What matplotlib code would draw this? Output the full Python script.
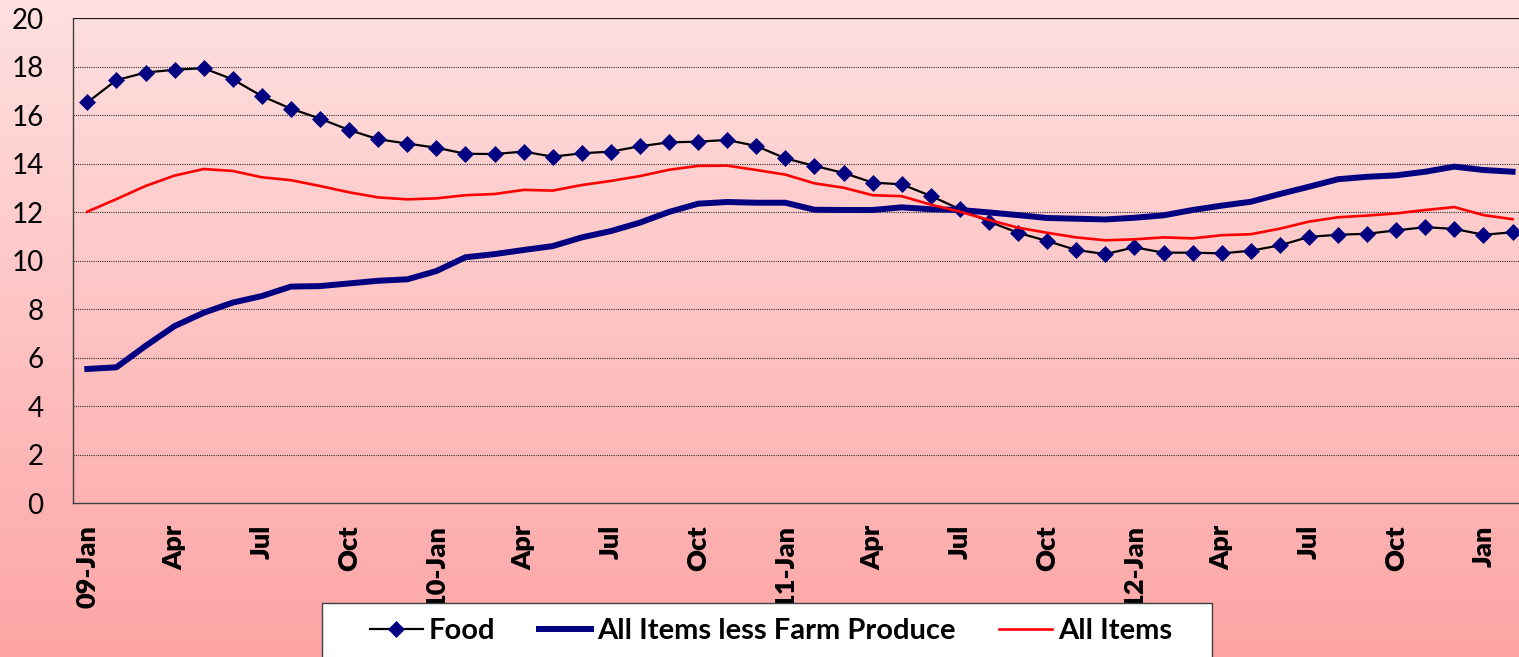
import numpy as np
import matplotlib
matplotlib.use('Agg')
import matplotlib.pyplot as plt
from matplotlib.patches import Rectangle

plt.rcParams['font.family'] = ['Lato', 'DejaVu Sans']

# ============================================================
# Data (monthly, Jan 2009 - Feb 2013)
# ============================================================
tick_labels = ['09-Jan', 'Apr', 'Jul', 'Oct', '10-Jan', 'Apr', 'Jul', 'Oct',
               '11-Jan', 'Apr', 'Jul', 'Oct', '12-Jan', 'Apr', 'Jul', 'Oct', 'Jan']

food = [16.53, 17.45, 17.76, 17.88, 17.94, 17.48, 16.79, 16.27, 15.86, 15.39,
        15.01, 14.83, 14.66, 14.41, 14.40, 14.50, 14.29, 14.43, 14.50, 14.72,
        14.88, 14.91, 14.98, 14.73, 14.22, 13.91, 13.62, 13.22, 13.15, 12.67,
        12.12, 11.61, 11.15, 10.81, 10.44, 10.27, 10.55, 10.33, 10.33, 10.30,
        10.41, 10.63, 10.98, 11.07, 11.11, 11.25, 11.38, 11.31, 11.07, 11.17]

less_farm = [5.53, 5.60, 6.48, 7.30, 7.85, 8.27, 8.54, 8.93, 8.95, 9.06,
             9.17, 9.23, 9.57, 10.14, 10.27, 10.44, 10.60, 10.96, 11.22, 11.57,
             12.01, 12.35, 12.42, 12.39, 12.39, 12.10, 12.09, 12.09, 12.20, 12.12,
             12.09, 11.99, 11.88, 11.76, 11.73, 11.70, 11.77, 11.87, 12.09, 12.27,
             12.43, 12.75, 13.05, 13.36, 13.46, 13.52, 13.67, 13.88, 13.74, 13.67]

all_items = [12.02, 12.54, 13.08, 13.51, 13.78, 13.70, 13.44, 13.32, 13.08, 12.82,
             12.61, 12.53, 12.57, 12.70, 12.75, 12.92, 12.89, 13.12, 13.29, 13.49,
             13.75, 13.91, 13.92, 13.74, 13.55, 13.19, 13.01, 12.70, 12.66, 12.31,
             12.02, 11.68, 11.36, 11.15, 10.96, 10.84, 10.88, 10.96, 10.92, 11.05,
             11.09, 11.32, 11.61, 11.79, 11.86, 11.95, 12.09, 12.21, 11.88, 11.71]

months = np.arange(len(food))

# ============================================================
# Figure
# ============================================================
W, H = 1519, 657
fig = plt.figure(figsize=(W / 100, H / 100), dpi=100)

# vertical pink gradient behind everything
bg_ax = fig.add_axes([0, 0, 1, 1], zorder=-10)
top_c = np.array([255, 224, 224]) / 255
bot_c = np.array([253, 165, 165]) / 255
grad = top_c + np.linspace(0, 1, 256)[:, None] * (bot_c - top_c)
bg_ax.imshow(grad.reshape(256, 1, 3), aspect='auto', extent=[0, 1, 0, 1])
bg_ax.axis('off')

ax = fig.add_axes([72.8 / W, 1 - 503 / H, (1527.1 - 72.8) / W, (503 - 18.3) / H])
ax.set_facecolor('none')

for y in range(2, 20, 2):
    ax.axhline(y, color='#303030', linestyle=(0, (1, 1)), linewidth=0.8, zorder=1)
ax.axhline(20, color='#202020', linewidth=0.9, zorder=1)

ax.plot(months, food, color='black', linewidth=1.6, marker='D', markersize=8,
        markerfacecolor='#000080', markeredgecolor='#000080', markeredgewidth=0.5,
        label='Food', zorder=3)
ax.plot(months, less_farm, color='#000080', linewidth=4.3,
        label='All Items less Farm Produce', zorder=4)
ax.plot(months, all_items, color='#ff0000', linewidth=1.9, label='All Items', zorder=5)

ax.set_xlim(-0.5, len(food) - 0.5)
ax.set_ylim(0, 20)
ax.set_yticks(range(0, 21, 2))
ax.set_xticks(months[::3])
ax.set_xticklabels(tick_labels, rotation=90, fontweight='heavy', fontsize=19.5,
                   va='top', ha='center')
ax.tick_params(axis='y', length=0, labelsize=20, pad=21)
ax.tick_params(axis='x', length=0, pad=16)

for s in ['top', 'right']:
    ax.spines[s].set_visible(False)
for s in ['left', 'bottom']:
    ax.spines[s].set_color('#404040')
    ax.spines[s].set_linewidth(1.0)

# legend box (runs off the bottom edge like the original)
fig.patches.append(Rectangle((322 / W, -0.01), (1212 - 322) / W, (657 - 603) / H + 0.01,
                             transform=fig.transFigure, facecolor='white',
                             edgecolor='#404040', linewidth=1.0, zorder=5))
handles, labels = ax.get_legend_handles_labels()
leg = fig.legend(handles, labels, loc='center', bbox_to_anchor=(771 / W, 1 - 631 / H),
                 ncol=3, frameon=False, prop=dict(weight='bold', size=21),
                 handlelength=1.8, handletextpad=0.2, columnspacing=1.5)
leg.set_zorder(6)

plt.savefig('out.png', dpi=100)
